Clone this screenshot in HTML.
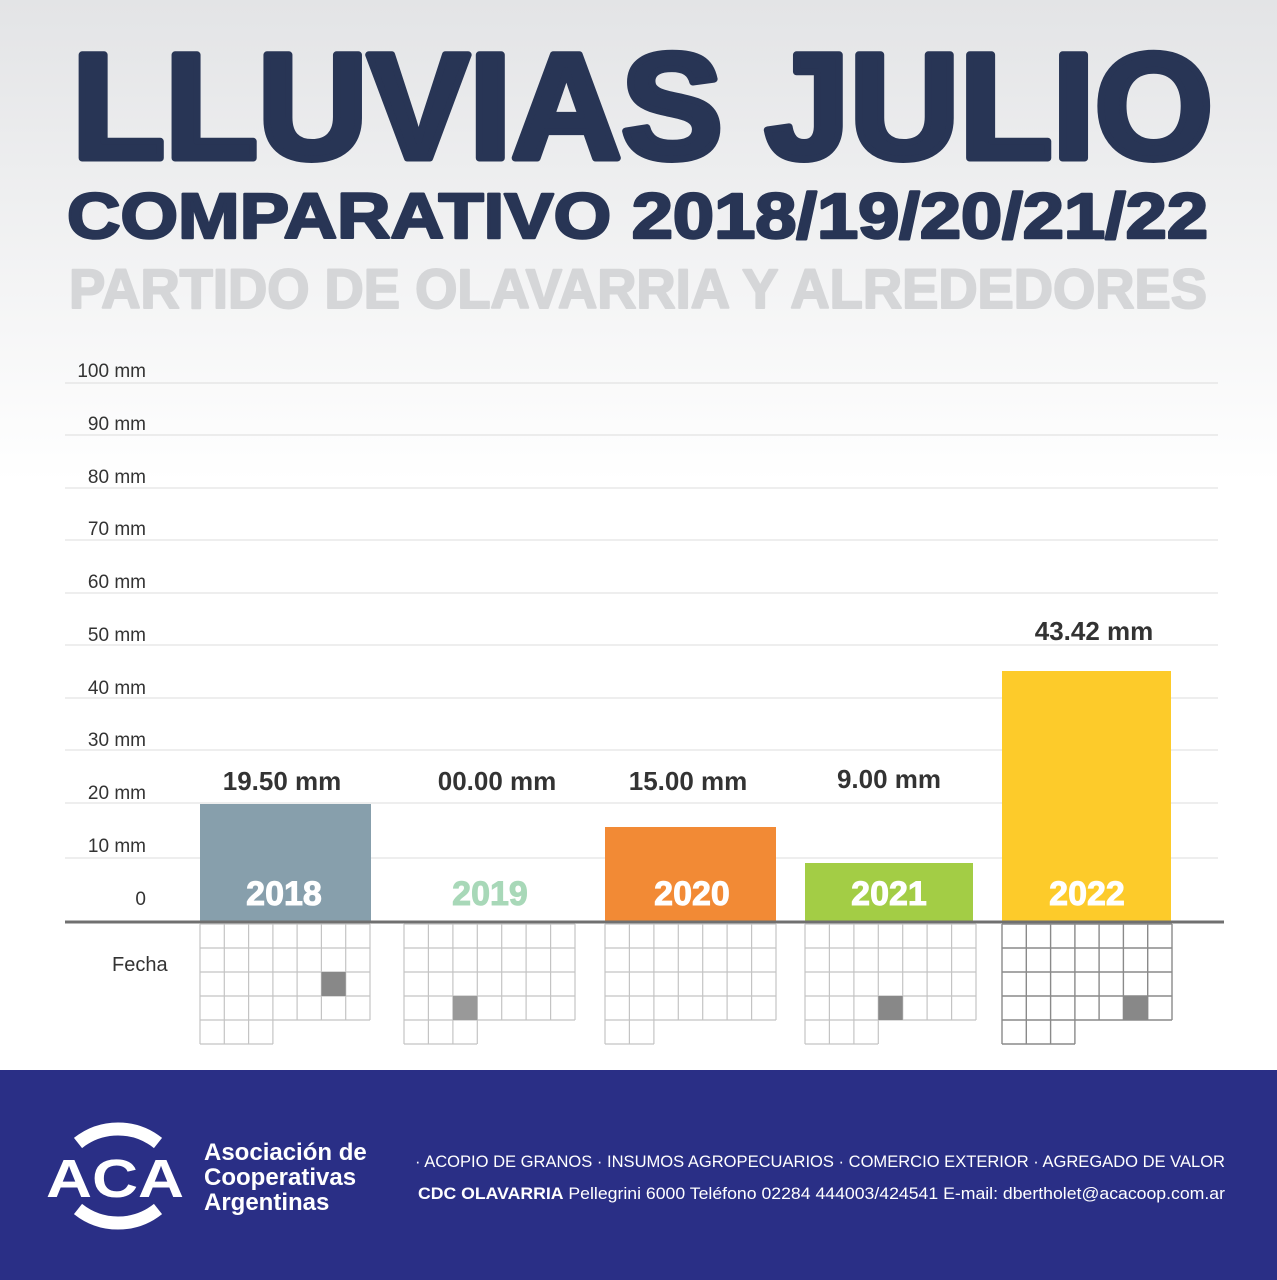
<!DOCTYPE html>
<html><head><meta charset="utf-8"><style>
body{margin:0}
svg{display:block}
</style></head><body>
<svg width="1277" height="1280" viewBox="0 0 1277 1280" xmlns="http://www.w3.org/2000/svg" font-family="Liberation Sans, sans-serif">
<defs><linearGradient id="bg" x1="0" y1="0" x2="0" y2="1">
<stop offset="0" stop-color="#e3e4e6"/><stop offset="0.45" stop-color="#ffffff"/><stop offset="1" stop-color="#ffffff"/></linearGradient></defs>
<rect width="1277" height="1070" fill="url(#bg)"/>
<text x="72" y="158" font-size="150" font-weight="bold" fill="#283555" stroke="#283555" stroke-width="7" stroke-linejoin="round" textLength="1141" lengthAdjust="spacingAndGlyphs">LLUVIAS JULIO</text>
<text x="67" y="238" font-size="64" font-weight="bold" fill="#283555" stroke="#283555" stroke-width="2.5" stroke-linejoin="round" textLength="1141" lengthAdjust="spacingAndGlyphs">COMPARATIVO 2018/19/20/21/22</text>
<text x="69" y="308" font-size="56" font-weight="bold" fill="#d5d6d8" stroke="#d5d6d8" stroke-width="2" stroke-linejoin="round" textLength="1138" lengthAdjust="spacingAndGlyphs">PARTIDO DE OLAVARRIA Y ALREDEDORES</text>
<g stroke="#dcdcdc" stroke-width="1">
<line x1="65" y1="383" x2="1218" y2="383"/><line x1="65" y1="435" x2="1218" y2="435"/>
<line x1="65" y1="488" x2="1218" y2="488"/><line x1="65" y1="540" x2="1218" y2="540"/>
<line x1="65" y1="593" x2="1218" y2="593"/><line x1="65" y1="645" x2="1218" y2="645"/>
<line x1="65" y1="698" x2="1218" y2="698"/><line x1="65" y1="750" x2="1218" y2="750"/>
<line x1="65" y1="803" x2="1218" y2="803"/><line x1="65" y1="858" x2="1218" y2="858"/>
</g>
<g font-size="19" fill="#333" text-anchor="end">
<text x="146" y="377">100 mm</text><text x="146" y="430">90 mm</text><text x="146" y="483">80 mm</text>
<text x="146" y="535">70 mm</text><text x="146" y="588">60 mm</text><text x="146" y="641">50 mm</text>
<text x="146" y="694">40 mm</text><text x="146" y="746">30 mm</text><text x="146" y="799">20 mm</text>
<text x="146" y="852">10 mm</text><text x="146" y="905">0</text>
</g>
<text x="112" y="971" font-size="20" fill="#333">Fecha</text>
<rect x="200" y="804" width="171" height="118" fill="#879fac"/>
<rect x="605" y="827" width="171" height="95" fill="#f28a35"/>
<rect x="805" y="863" width="168" height="59" fill="#a3cd45"/>
<rect x="1002" y="671" width="169" height="251" fill="#fdcb2a"/>
<line x1="65" y1="922" x2="1224" y2="922" stroke="#707070" stroke-width="3"/>
<g font-size="34" font-weight="bold" text-anchor="middle" stroke-width="1">
<text x="284" y="905" fill="#fff" stroke="#fff">2018</text><text x="490" y="905" fill="#a8d8b8" stroke="#a8d8b8">2019</text>
<text x="692" y="905" fill="#fff" stroke="#fff">2020</text><text x="889" y="905" fill="#fff" stroke="#fff">2021</text>
<text x="1087" y="905" fill="#fff" stroke="#fff">2022</text>
</g>
<g font-size="26" font-weight="bold" fill="#333" text-anchor="middle">
<text x="282" y="790">19.50 mm</text><text x="497" y="790">00.00 mm</text>
<text x="688" y="790">15.00 mm</text><text x="889" y="788">9.00 mm</text>
<text x="1094" y="640">43.42 mm</text>
</g>
<g fill="none" stroke="#c4c4c4" stroke-width="1.2">
<path d="M200 924h170M200 948h170M200 972h170M200 996h170M200 1020h170M200 1044h73M200 924v120M224.3 924v120M248.6 924v120M272.9 924v120M297.1 924v96M321.4 924v96M345.7 924v96M370 924v96"/>
<path d="M404 924h171M404 948h171M404 972h171M404 996h171M404 1020h171M404 1044h73M404 924v120M428.4 924v120M452.9 924v120M477.3 924v120M501.7 924v96M526.1 924v96M550.6 924v96M575 924v96"/>
<path d="M605 924h171M605 948h171M605 972h171M605 996h171M605 1020h171M605 1044h49M605 924v120M629.4 924v120M653.9 924v120M678.3 924v96M702.7 924v96M727.1 924v96M751.6 924v96M776 924v96"/>
<path d="M805 924h171M805 948h171M805 972h171M805 996h171M805 1020h171M805 1044h73M805 924v120M829.4 924v120M853.9 924v120M878.3 924v120M902.7 924v96M927.1 924v96M951.6 924v96M976 924v96"/>
</g>
<g fill="none" stroke="#8a8a8a" stroke-width="1.4">
<path d="M1002 924h170M1002 948h170M1002 972h170M1002 996h170M1002 1020h170M1002 1044h73M1002 924v120M1026.3 924v120M1050.6 924v120M1074.9 924v120M1099.1 924v96M1123.4 924v96M1147.7 924v96M1172 924v96"/>
</g>
<rect x="321.4" y="972" width="24.3" height="24" fill="#888"/>
<rect x="452.9" y="996" width="24.4" height="24" fill="#999"/>
<rect x="878.3" y="996" width="24.4" height="24" fill="#888"/>
<rect x="1123.4" y="996" width="24.3" height="24" fill="#888"/>
<rect x="0" y="1070" width="1277" height="210" fill="#2a2f86"/>
<g fill="none" stroke="#fff" stroke-width="13">
<path d="M78 1143 A64 64 0 0 1 158 1143"/>
<path d="M78 1209 A64 64 0 0 0 158 1209"/>
</g>
<text x="115" y="1197" font-size="54" font-weight="bold" fill="#fff" text-anchor="middle" textLength="138" lengthAdjust="spacingAndGlyphs">ACA</text>
<g font-size="24" font-weight="bold" fill="#fff">
<text x="204" y="1160">Asociación de</text><text x="204" y="1185">Cooperativas</text><text x="204" y="1210">Argentinas</text>
</g>
<text x="415" y="1167" font-size="17" fill="#fff" textLength="810" lengthAdjust="spacingAndGlyphs">·  ACOPIO DE GRANOS  ·  INSUMOS AGROPECUARIOS  ·  COMERCIO EXTERIOR  ·  AGREGADO DE VALOR</text>
<text x="418" y="1199" font-size="17" fill="#fff" textLength="807" lengthAdjust="spacingAndGlyphs"><tspan font-weight="bold">CDC OLAVARRIA</tspan> Pellegrini 6000 Teléfono 02284 444003/424541 E-mail: dbertholet@acacoop.com.ar</text>
</svg>
</body></html>
